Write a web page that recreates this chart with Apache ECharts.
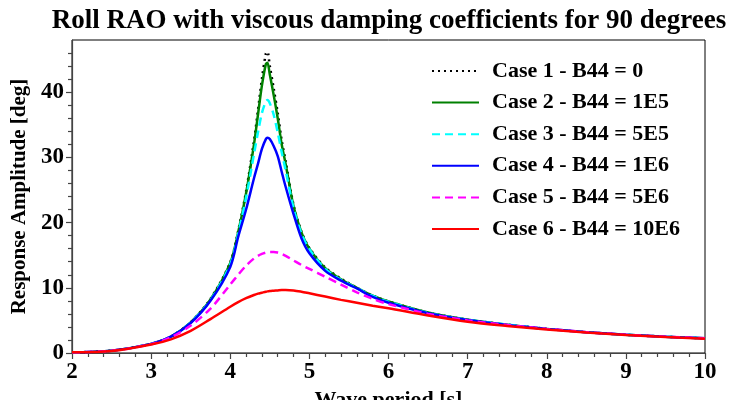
<!DOCTYPE html>
<html>
  <head>
    <meta charset="utf-8">
    <title></title>
    <style media="screen">
    html, body {margin:0; padding:0; background:#fff}
    .box {width:730px; height:400px}
    </style>
    <script src="https://cdn.jsdelivr.net/npm/echarts@6/dist/echarts.min.js" charset="utf-8"></script>
    <script>
    // wave period [s]
    const periods=[2, 2.5, 3, 3.25, 3.5, 3.75, 4.0, 4.1, 4.2, 4.3, 4.35, 4.4, 4.45, 4.47, 4.5, 4.55, 4.6, 4.65, 4.7, 4.8, 4.9, 5.0, 5.2, 5.4, 5.6, 5.8, 6.0, 6.5, 7, 7.5, 8, 8.5, 9, 9.5, 10];

    // roll amplitude [deg], one list per case
    const case1=[0.1, 0.35, 1.4, 2.5, 4.7, 8.3, 13.9, 18.7, 24.8, 32.5, 37.2, 42.0, 45.9, 46.2, 44.0, 40.5, 36.8, 32.6, 29.4, 22.7, 18.6, 16.1, 13.1, 11.4, 10.0, 8.8, 7.9, 6.2, 5.1, 4.35, 3.7, 3.2, 2.8, 2.5, 2.25];
    const case2=[0.1, 0.35, 1.4, 2.5, 4.7, 8.2, 13.8, 18.5, 24.5, 32.0, 36.5, 41.0, 44.3, 44.5, 42.7, 39.5, 36.0, 32.0, 29.0, 22.5, 18.5, 16.0, 13.0, 11.3, 10.0, 8.8, 7.9, 6.2, 5.1, 4.35, 3.7, 3.2, 2.8, 2.5, 2.25];
    const case3=[0.1, 0.35, 1.4, 2.5, 4.7, 8.1, 13.6, 18.3, 23.8, 30.5, 33.8, 36.8, 38.6, 38.8, 38.3, 36.5, 33.8, 30.8, 28.0, 22.2, 18.3, 15.9, 12.9, 11.2, 9.95, 8.75, 7.85, 6.15, 5.1, 4.35, 3.7, 3.2, 2.8, 2.5, 2.25];
    const case4=[0.1, 0.35, 1.4, 2.5, 4.6, 8.0, 13.2, 17.8, 22.0, 26.8, 29.0, 31.3, 32.8, 33.0, 32.8, 31.7, 30.2, 27.8, 25.5, 21.3, 17.6, 15.3, 12.6, 11.1, 9.9, 8.6, 7.7, 6.1, 5.05, 4.3, 3.7, 3.2, 2.8, 2.5, 2.25];
    const case5=[0.1, 0.35, 1.35, 2.4, 4.2, 6.8, 10.5, 12.0, 13.4, 14.5, 14.9, 15.2, 15.4, 15.45, 15.5, 15.5, 15.4, 15.2, 14.9, 14.2, 13.5, 12.9, 11.7, 10.5, 9.3, 8.3, 7.5, 6.0, 5.0, 4.3, 3.7, 3.2, 2.8, 2.5, 2.25];
    const case6=[0.1, 0.3, 1.3, 2.1, 3.4, 5.2, 7.1, 7.8, 8.4, 8.9, 9.1, 9.25, 9.4, 9.45, 9.5, 9.55, 9.6, 9.65, 9.65, 9.6, 9.4, 9.15, 8.65, 8.15, 7.7, 7.25, 6.85, 5.75, 4.8, 4.15, 3.6, 3.15, 2.75, 2.45, 2.2];

    const caseNames=['Case 1 - B44 = 0', 'Case 2 - B44 = 1E5', 'Case 3 - B44 = 5E5', 'Case 4 - B44 = 1E6', 'Case 5 - B44 = 5E6', 'Case 6 - B44 = 10E6'];
    const yMajor=[0, 10, 20, 30, 40];
    const yMinor=[2, 4, 6, 8, 12, 14, 16, 18, 22, 24, 26, 28, 32, 34, 36, 38, 42, 44, 46];

    const FONT='"Liberation Serif", "DejaVu Serif", serif';

    window.onload=function (){
      let allCases=[case1, case2, case3, case4, case5, case6];
      let looks=[
        {color: '#000000', type: [2, 4]},
        {color: '#008000', type: 'solid'},
        {color: '#00ffff', type: [8, 5]},
        {color: '#0000ff', type: 'solid'},
        {color: '#ff00ff', type: [8, 5]},
        {color: '#ff0000', type: 'solid'}
      ];

      let series=allCases.map((vals, i)=>({
        name: caseNames[i],
        type: 'line',
        smooth: 0.3,
        symbol: 'none',
        showSymbol: false,
        data: periods.map((p, j)=>[p, vals[j]]),
        lineStyle: {width: 2.5, color: looks[i].color, type: looks[i].type},
        itemStyle: {color: looks[i].color}
      }));

      let option={
        animation: false,
        title: {
          text: 'Roll RAO with viscous damping coefficients for 90 degrees',
          left: 384, textAlign: 'center', top: 3,
          textStyle: {fontFamily: FONT, fontWeight: 'bold', fontSize: 27, color: '#000'}
        },
        legend: {
          orient: 'vertical',
          left: 426, top: 55,
          itemWidth: 47, itemHeight: 14, itemGap: 9.6,
          data: caseNames,
          itemStyle: {opacity: 0},
          textStyle: {fontFamily: FONT, fontWeight: 'bold', fontSize: 22, lineHeight: 22, color: '#000', padding: [0, 0, 0, 8]}
        },
        grid: {left: 72, right: 25, top: 40, bottom: 47, outerBoundsMode: 'none', show: true, borderColor: '#000', borderWidth: 1},
        xAxis: {
          type: 'value', min: 2, max: 10, interval: 1,
          name: 'Wave period [s]', nameLocation: 'middle', nameGap: 35,
          nameTextStyle: {fontFamily: FONT, fontWeight: 'bold', fontSize: 22, color: '#000'},
          axisLine: {lineStyle: {color: '#444', width: 1.2}},
          axisTick: {length: 6, lineStyle: {color: '#444', width: 1.2}},
          minorTick: {show: true, splitNumber: 5, length: 4, lineStyle: {color: '#444', width: 1.2}},
          splitLine: {show: false},
          axisLabel: {fontFamily: FONT, fontWeight: 'bold', fontSize: 23, color: '#000', margin: 8}
        },
        yAxis: [
          {
            type: 'value', min: 0, max: 48,
            name: 'Response Amplitude [deg]', nameLocation: 'middle', nameGap: 33,
            nameTextStyle: {fontFamily: FONT, fontWeight: 'bold', fontSize: 21, color: '#000'},
            axisLine: {show: true, lineStyle: {color: '#444', width: 1.2}},
            axisTick: {show: true, length: 6, customValues: yMajor, lineStyle: {color: '#444', width: 1.2}},
            splitLine: {show: false},
            axisLabel: {customValues: yMajor, fontFamily: FONT, fontWeight: 'bold', fontSize: 23, color: '#000', margin: 8}
          },
          {
            type: 'value', min: 0, max: 48, position: 'left',
            axisLine: {show: false},
            axisTick: {show: true, length: 4, customValues: yMinor, lineStyle: {color: '#444', width: 1.2}},
            axisLabel: {show: false},
            splitLine: {show: false}
          }
        ],
        series: series
      };

      let chart=echarts.init(document.querySelector('.box'));
      chart.setOption(option);
    };
    </script>
  </head>
  <body>
    <div class="box"></div>
  </body>
</html>
